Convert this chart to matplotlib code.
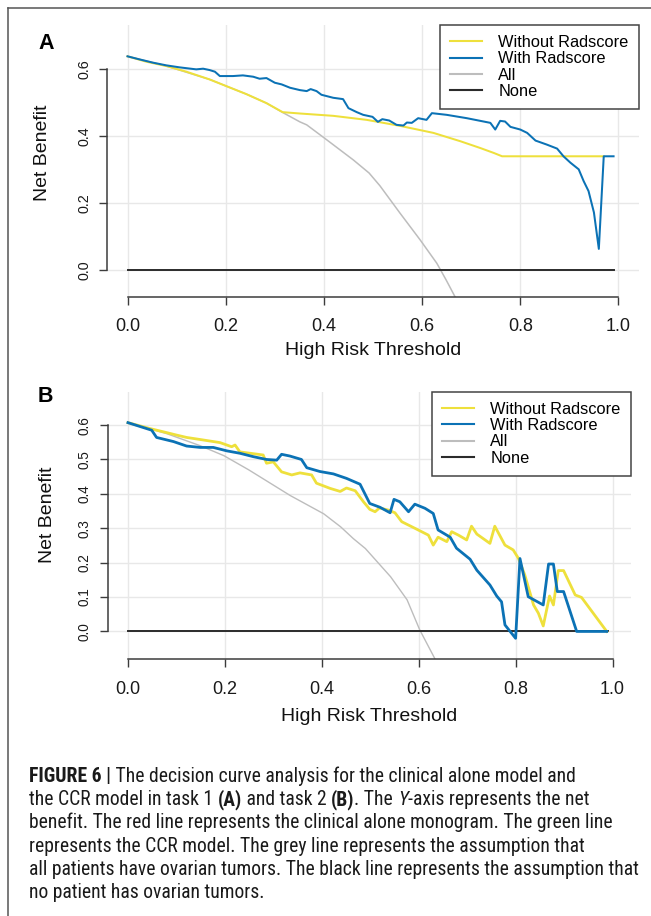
import os
import matplotlib
matplotlib.use('Agg')
import matplotlib.pyplot as plt
from matplotlib.lines import Line2D
from matplotlib.font_manager import FontProperties, fontManager

# ---------------- data ----------------
# Panel A (task 1)
a_with_x = [0, 0.024, 0.052, 0.079, 0.106, 0.14, 0.154, 0.167, 0.178, 0.188, 0.215, 0.235, 0.256,
            0.269, 0.283, 0.30, 0.314, 0.331, 0.351, 0.365, 0.373, 0.385, 0.395, 0.419, 0.439,
            0.45, 0.467, 0.48, 0.499, 0.51, 0.519, 0.533, 0.548, 0.562, 0.569, 0.579, 0.592,
            0.609, 0.62, 0.65, 0.691, 0.739, 0.749, 0.759, 0.769, 0.78, 0.80, 0.814, 0.831,
            0.854, 0.875, 0.888, 0.902, 0.919, 0.929, 0.939, 0.95, 0.96, 0.97, 0.99]
a_with_y = [0.639, 0.63, 0.62, 0.612, 0.606, 0.60, 0.602, 0.598, 0.593, 0.58, 0.58, 0.582, 0.578,
            0.572, 0.574, 0.56, 0.555, 0.545, 0.538, 0.535, 0.541, 0.535, 0.524, 0.515, 0.511,
            0.484, 0.472, 0.464, 0.458, 0.443, 0.451, 0.447, 0.434, 0.432, 0.441, 0.44, 0.454,
            0.449, 0.469, 0.464, 0.454, 0.44, 0.42, 0.446, 0.444, 0.428, 0.42, 0.41, 0.387,
            0.375, 0.363, 0.34, 0.321, 0.301, 0.266, 0.236, 0.172, 0.063, 0.34, 0.34]
a_without_x = [0, 0.038, 0.079, 0.12, 0.167, 0.201, 0.242, 0.283, 0.316, 0.351, 0.419, 0.487,
               0.555, 0.623, 0.678, 0.718, 0.746, 0.763, 0.97]
a_without_y = [0.639, 0.623, 0.61, 0.593, 0.57, 0.55, 0.526, 0.499, 0.472, 0.468, 0.461, 0.449,
               0.431, 0.41, 0.385, 0.365, 0.35, 0.34, 0.34]
a_all_x = [0, 0.079, 0.167, 0.242, 0.283, 0.316, 0.351, 0.365, 0.406, 0.433, 0.46, 0.492, 0.514,
           0.555, 0.596, 0.63, 0.649, 0.667]
a_all_y = [0.639, 0.61, 0.57, 0.526, 0.499, 0.471, 0.443, 0.434, 0.389, 0.359, 0.329, 0.29, 0.252,
           0.17, 0.09, 0.02, -0.03, -0.08]
a_none_x = [0, 0.99]
a_none_y = [0, 0]

# Panel B (task 2)
b_with_x = [0, 0.049, 0.059, 0.094, 0.121, 0.149, 0.176, 0.204, 0.231, 0.259, 0.286, 0.307, 0.317,
            0.334, 0.358, 0.369, 0.396, 0.424, 0.451, 0.479, 0.499, 0.52, 0.541, 0.549, 0.561,
            0.579, 0.592, 0.613, 0.630, 0.640, 0.665, 0.678, 0.706, 0.72, 0.747, 0.761, 0.771,
            0.778, 0.80, 0.809, 0.826, 0.857, 0.868, 0.878, 0.886, 0.899, 0.926, 0.988]
b_with_y = [0.607, 0.585, 0.564, 0.552, 0.539, 0.535, 0.535, 0.525, 0.518, 0.508, 0.50, 0.498, 0.515,
            0.51, 0.50, 0.476, 0.465, 0.458, 0.445, 0.428, 0.372, 0.361, 0.345, 0.384, 0.377,
            0.348, 0.37, 0.358, 0.343, 0.295, 0.274, 0.242, 0.21, 0.178, 0.135, 0.103, 0.086,
            0.019, -0.02, 0.212, 0.101, 0.077, 0.196, 0.196, 0.116, 0.116, 0.0, 0.0]
b_without_x = [0, 0.045, 0.08, 0.10, 0.121, 0.149, 0.19, 0.214, 0.221, 0.231, 0.279, 0.286, 0.30,
               0.317, 0.338, 0.355, 0.379, 0.389, 0.417, 0.438, 0.451, 0.469, 0.486, 0.499, 0.51,
               0.519, 0.537, 0.551, 0.565, 0.592, 0.62, 0.63, 0.64, 0.658, 0.668, 0.682, 0.699,
               0.709, 0.72, 0.747, 0.757, 0.778, 0.795, 0.806, 0.819, 0.837, 0.847, 0.857, 0.87,
               0.878, 0.888, 0.899, 0.923, 0.936, 0.988]
b_without_y = [0.607, 0.59, 0.578, 0.571, 0.564, 0.558, 0.549, 0.537, 0.542, 0.522, 0.513, 0.489,
               0.493, 0.464, 0.455, 0.461, 0.455, 0.431, 0.416, 0.407, 0.417, 0.409, 0.377, 0.355,
               0.348, 0.359, 0.353, 0.345, 0.319, 0.30, 0.28, 0.251, 0.274, 0.261, 0.29, 0.28,
               0.266, 0.306, 0.283, 0.256, 0.306, 0.251, 0.237, 0.212, 0.164, 0.077, 0.053, 0.016,
               0.103, 0.077, 0.177, 0.177, 0.106, 0.099, 0.0]
b_all_x = [0, 0.08, 0.149, 0.198, 0.249, 0.335, 0.404, 0.439, 0.465, 0.49, 0.542, 0.576,
           0.602, 0.634]
b_all_y = [0.607, 0.575, 0.54, 0.511, 0.47, 0.395, 0.342, 0.304, 0.27, 0.241, 0.159, 0.092,
           0.005, -0.081]
b_none_x = [0, 0.99]
b_none_y = [0, 0]

series_labels = ['Without Radscore', 'With Radscore', 'All', 'None']
x_ticks = [0.0, 0.2, 0.4, 0.6, 0.8, 1.0]
a_y_ticks = [0.0, 0.2, 0.4, 0.6]
b_y_ticks = [0.0, 0.1, 0.2, 0.3, 0.4, 0.5, 0.6]
x_label = 'High Risk Threshold'
y_label = 'Net Benefit'

caption_lines = [
    [('FIGURE 6 |', 'b'), (' The decision curve analysis for the clinical alone model and', 'n')],
    [('the CCR model in task 1 ', 'n'), ('(A)', 'b'), (' and task 2 ', 'n'), ('(B)', 'b'),
     ('. The ', 'n'), ('Y', 'i'), ('-axis represents the net', 'n')],
    [('benefit. The red line represents the clinical alone monogram. The green line', 'n')],
    [('represents the CCR model. The grey line represents the assumption that', 'n')],
    [('all patients have ovarian tumors. The black line represents the assumption that', 'n')],
    [('no patient has ovarian tumors.', 'n')],
]

# ---------------- styling ----------------
YELLOW = '#EEE03C'
BLUE = '#0B72B5'
GREY = '#BDBDBD'
NONEC = '#2b2b2b'
AXC = '#3c3c3c'
GRIDC = '#E8E8E8'

plt.rcParams['font.family'] = ['Liberation Sans', 'DejaVu Sans']

W, H = 651, 916
fig = plt.figure(figsize=(W / 100, H / 100), dpi=100)
fig.patch.set_facecolor('white')


def px_axes(left, top, right, bottom):
    return fig.add_axes([left / W, 1 - bottom / H, (right - left) / W, (bottom - top) / H])


def style_axes(ax, xlim, ylim, yticks, ytick_size, xlab_y, ylab_xy):
    ax.set_xlim(*xlim)
    ax.set_ylim(*ylim)
    ax.set_xticks(x_ticks)
    ax.set_xticklabels(['%.1f' % v for v in x_ticks])
    ax.set_yticks(yticks)
    ax.set_yticklabels(['%.1f' % v for v in yticks])
    for s in ['top', 'right']:
        ax.spines[s].set_visible(False)
    ax.spines['left'].set_bounds(0, max(yticks))
    ax.spines['bottom'].set_bounds(0, 1)
    for s in ['left', 'bottom']:
        ax.spines[s].set_color(AXC)
        ax.spines[s].set_linewidth(1.1)
    ax.grid(True, color=GRIDC, lw=1.0)
    ax.set_axisbelow(True)
    ax.tick_params(axis='both', direction='out', length=5.8, width=1.0, color=AXC)
    ax.tick_params(axis='x', labelsize=13, pad=9.5, labelcolor='#1a1a1a')
    ax.tick_params(axis='y', labelsize=ytick_size, pad=6.0, labelcolor='#1a1a1a')
    for lab in ax.get_yticklabels():
        lab.set_rotation(90)
        lab.set_va('center')
        lab.set_ha('right')
    ax.set_xlabel(x_label, fontsize=14, color='#111111')
    ax.xaxis.set_label_coords(0.5, xlab_y)
    ax.set_ylabel(y_label, fontsize=14, color='#111111')
    ax.yaxis.set_label_coords(*ylab_xy)


def draw_panel(ax, wx, wy, ox, oy, allx, ally, nx, ny, lw_main, lw_all):
    h1, = ax.plot(ox, oy, color=YELLOW, lw=lw_main, solid_joinstyle='round', zorder=3)
    h2, = ax.plot(wx, wy, color=BLUE, lw=lw_main, solid_joinstyle='round', zorder=4)
    h3, = ax.plot(allx, ally, color=GREY, lw=lw_all, zorder=2)
    h4, = ax.plot(nx, ny, color=NONEC, lw=1.4, zorder=2)
    leg = ax.legend([h1, h2, h3, h4], series_labels, loc='upper right', borderaxespad=0,
                    fontsize=11.8, handlelength=1.95, handletextpad=0.98, labelspacing=0.08,
                    borderpad=0.62, fancybox=False, framealpha=1, edgecolor='#444444')
    leg.get_frame().set_linewidth(1.1)
    for h in leg.get_lines():
        h.set_linewidth(1.5)


# Panel A
axA = px_axes(107.4, 25, 638.6, 296.7)
draw_panel(axA, a_with_x, a_with_y, a_without_x, a_without_y, a_all_x, a_all_y,
           a_none_x, a_none_y, 1.45, 1.1)
style_axes(axA, (-0.041, 1.041), (-0.08, 0.7327), a_y_ticks, 10.3, -0.165, (-0.106, 0.528))

# Panel B
axB = px_axes(108.1, 391.7, 630.7, 659.3)
draw_panel(axB, b_with_x, b_with_y, b_without_x, b_without_y, b_all_x, b_all_y,
           b_none_x, b_none_y, 2.0, 1.0)
style_axes(axB, (-0.041, 1.0375), (-0.081, 0.697), b_y_ticks, 9.8, -0.183, (-0.0997, 0.539))

# Panel letters
fig.text(46 / W, 1 - 43.5 / H, 'A', fontsize=15.5, fontweight='bold', ha='center', va='center')
fig.text(45.6 / W, 1 - 396.7 / H, 'B', fontsize=15.5, fontweight='bold', ha='center', va='center')

# Outer frame (top and left edges)
fig.add_artist(Line2D([8 / W, 1], [1 - 8 / H, 1 - 8 / H], transform=fig.transFigure,
                      color='#555555', lw=1.1))
fig.add_artist(Line2D([8 / W, 8 / W], [1 - 8 / H, 0], transform=fig.transFigure,
                      color='#555555', lw=1.1))


# ---------------- caption (condensed face if one is installed) ----------------
def find_condensed():
    files = sorted(set(f.fname for f in fontManager.ttflist))
    prefixes = ['liberationsansnarrow', 'robotocondensed', 'opensans_condensed',
                'opensans-condensed', 'opensanscondensed', 'notosans-condensed',
                'dejavusanscondensed']
    for pre in prefixes:
        cands = [p for p in files if os.path.basename(p).lower().startswith(pre)]
        if not cands:
            continue
        reg = bold = ital = None
        for p in cands:
            b = os.path.basename(p).lower()
            rest = b[len(pre):]
            isb = 'bold' in rest and not any(k in rest for k in ('semibold', 'extrabold', 'ultrabold'))
            isi = 'italic' in rest or 'oblique' in rest
            plain = not any(k in rest for k in ('bold', 'italic', 'oblique', 'light', 'thin',
                                                  'medium', 'black', 'semi', 'extra'))
            if plain and reg is None:
                reg = p
            elif isb and not isi and bold is None:
                bold = p
            elif isi and not ('bold' in rest) and ital is None:
                ital = p
        if reg:
            return {'n': reg, 'b': bold or reg, 'i': ital or reg}
    return None


cond = find_condensed()
renderer = fig.canvas.get_renderer()


def fp_for(style, size):
    if cond:
        return FontProperties(fname=cond[style], size=size)
    return FontProperties(family=['Liberation Sans', 'DejaVu Sans'], size=size,
                          weight='bold' if style == 'b' else 'normal',
                          style='italic' if style == 'i' else 'normal')


def seg_width(s, fp):
    t1 = fig.text(0, 0, '|' + s + '|', fontproperties=fp)
    t2 = fig.text(0, 0, '||', fontproperties=fp)
    w = t1.get_window_extent(renderer).width - t2.get_window_extent(renderer).width
    t1.remove()
    t2.remove()
    return w


def line_width(line, size):
    return sum(seg_width(s, fp_for(st, size)) for s, st in line)


ref_size = 12.0
longest = max(line_width(caption_lines[k], ref_size) for k in (1, 2, 4))
cap_size = ref_size * 610.0 / longest

x0 = 29.0
base0 = 781.7
step = 23.3
for i, line in enumerate(caption_lines):
    x = x0
    yb = base0 + i * step
    for s, st in line:
        fp = fp_for(st, cap_size)
        fig.text(x / W, 1 - yb / H, s, fontproperties=fp, ha='left', va='baseline',
                 color='#1a1a1a')
        x += seg_width(s, fp)

fig.savefig('out.png', dpi=100, facecolor='white')
